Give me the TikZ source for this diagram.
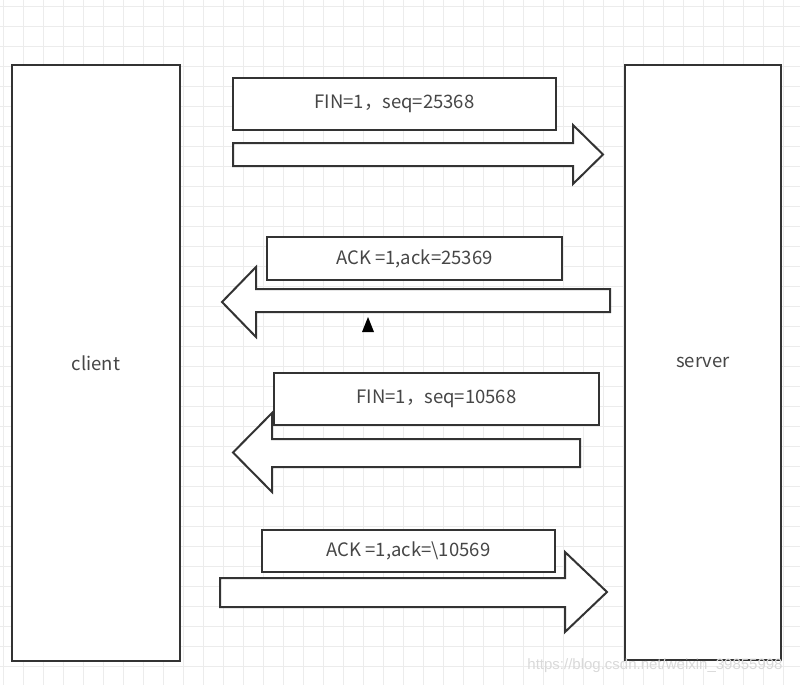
\documentclass[tikz,border=0pt]{standalone}
\usepackage{fontspec}
\setmainfont{Noto Sans CJK SC}
\newfontfamily\wmfont{Liberation Sans}
\usepackage{xcolor}
\usetikzlibrary{arrows.meta,positioning,calc}
\definecolor{edgegray}{RGB}{51,51,51}
\definecolor{textgray}{RGB}{70,70,70}
\definecolor{gridgray}{RGB}{236,236,236}

\begin{document}
\begin{tikzpicture}[
        x=1pt, y=-1pt,
        gridline/.style={gridgray, line width=0.8pt},
        host/.style={draw=edgegray, line width=2pt, fill=white, minimum width=#1, minimum height=595pt, font=\fontsize{18.5}{22}\selectfont, text=textgray},
        msg/.style={draw=edgegray, line width=2pt, fill=white, font=\fontsize{18.5}{22}\selectfont, text=textgray},
        fatarrow/.style={draw=edgegray, line width=2pt, fill=white, line join=miter}
    ]
        \useasboundingbox (0,0) rectangle (800,685);

        % Background grid
        \foreach \gx in {3,23,...,800}
            \draw[gridline] (\gx,0) -- (\gx,685);
        \foreach \gy in {6,26,...,685}
            \draw[gridline] (0,\gy) -- (800,\gy);

        % Client and server
        \node[host=168pt] (client) at (96,363) {client};
        \node[host=156pt] (server) at (703,362.5) {server};

        % Fat arrows: shaft end / shaft top / shaft bottom / head base / head top / head bottom / tip
        \foreach \xa/\yt/\yb/\xb/\ht/\hb/\xt in {
                233/143/166/573/125/184/603,
                610/289/312/256/267/337/222,
                580/439/467/272/413/492/233,
                220/578/607/565/552/632/607} {
            \draw[fatarrow] (\xa,\yt) -- (\xb,\yt) -- (\xb,\ht) -- (\xt,{(\ht+\hb)/2})
                -- (\xb,\hb) -- (\xb,\yb) -- (\xa,\yb) -- cycle;
        }

        % Messages
        \node[msg, minimum width=323pt, minimum height=52pt] (fin1) at (394.5,104) {FIN=1，seq=25368};
        \node[msg, minimum width=295pt, minimum height=43pt] (ack1) at (414.5,258.5) {ACK\ =1,ack=25369};
        \node[msg, minimum width=325pt, minimum height=52pt] (fin2) at (436.5,399) {FIN=1，seq=10568};
        \node[msg, minimum width=293pt, minimum height=42pt] (ack2) at (408.5,551) {ACK\ =1,ack=\textbackslash10569};

        % Cursor mark
        \fill[black] (368,317) -- (374,332) -- (362,332) -- cycle;

        % Watermark
        \node[text=gray!30, font=\wmfont\fontsize{15}{18}\selectfont] (mark) at (655,666) {https://blog.csdn.net/weixin\_39855998};

    \end{tikzpicture}
\end{document}
